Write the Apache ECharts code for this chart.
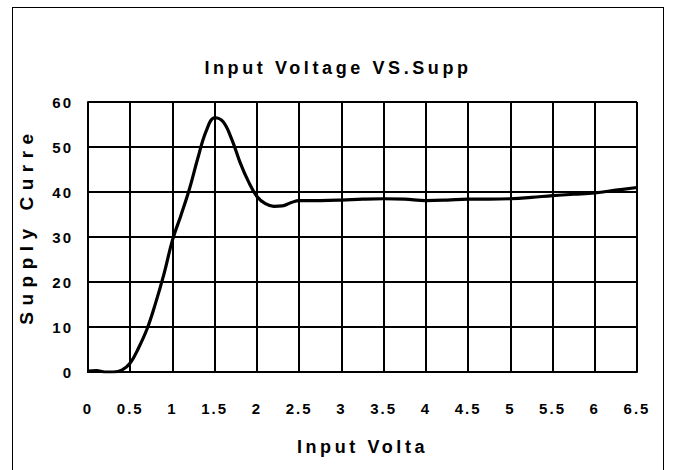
<!DOCTYPE html>
<html><head><meta charset="utf-8">
<script src="https://cdn.jsdelivr.net/npm/echarts@6/dist/echarts.min.js"></script>
<style>
html,body{margin:0;padding:0;background:#fff;}
#wrap{position:relative;width:676px;height:470px;overflow:hidden;}
#chart{width:676px;height:470px;}
#frame{position:absolute;left:12px;top:7px;width:650px;height:490px;border:1.5px solid #000;pointer-events:none;}
#chart text[style*="15px"]{letter-spacing:2px;}
#chart text[style*="18px"]{letter-spacing:3.6px;}
#chart text[style*="19px"]{letter-spacing:6.5px;}
</style>
</head><body>
<div id="wrap"><div id="chart"></div><div id="frame"></div></div>
<script>
const titleText = 'Input Voltage VS.Supp';
const xName = 'Input Volta';
const yName = 'Supply Curre';
const voltage = [0, 0.1, 0.2, 0.3, 0.4, 0.5, 0.6, 0.7, 0.8, 0.9, 1.0, 1.1, 1.2, 1.3, 1.4, 1.5, 1.6, 1.7, 1.8, 1.9, 2.0, 2.1, 2.2, 2.3, 2.4, 2.5, 2.75, 3.0, 3.25, 3.5, 3.75, 4.0, 4.25, 4.5, 4.75, 5.0, 5.25, 5.5, 5.75, 6.0, 6.25, 6.5];
const current = [0.2, 0.3, 0.0, 0.0, 0.4, 2.0, 5.4, 9.6, 15.3, 21.8, 29.3, 34.8, 40.6, 47.5, 53.6, 56.5, 55.6, 51.8, 46.6, 42.3, 39.0, 37.4, 36.8, 36.9, 37.6, 38.1, 38.1, 38.2, 38.4, 38.5, 38.4, 38.1, 38.2, 38.4, 38.4, 38.5, 38.8, 39.2, 39.5, 39.8, 40.4, 41.0];
const xTicks = [0, 6.5, 0.5];
const yTicks = [0, 60, 10];

const chart = echarts.init(document.getElementById('chart'), null, {renderer: 'svg'});
const fam = '"Liberation Sans", Arial, sans-serif';
chart.setOption({
  animation: false,
  backgroundColor: '#fff',
  title: {
    text: titleText, left: 'center', top: 54,
    textStyle: {fontFamily: fam, fontSize: 18, fontWeight: 'bold', color: '#000'}
  },
  grid: {left: 88, right: 39, top: 102, bottom: 98},
  xAxis: {
    type: 'value', min: xTicks[0], max: xTicks[1], interval: xTicks[2],
    name: xName, nameLocation: 'middle', nameGap: 66,
    nameTextStyle: {fontFamily: fam, fontSize: 18, fontWeight: 'bold', color: '#000'},
    axisLine: {show: true, lineStyle: {color: '#000', width: 2}},
    axisTick: {show: false},
    axisLabel: {margin: 29, fontFamily: fam, fontSize: 15, fontWeight: 'bold', color: '#000', showMinLabel: true, showMaxLabel: true},
    splitLine: {show: true, lineStyle: {color: '#000', width: 2}}
  },
  yAxis: {
    type: 'value', min: yTicks[0], max: yTicks[1], interval: yTicks[2],
    name: yName, nameLocation: 'middle', nameGap: 52,
    nameTextStyle: {fontFamily: fam, fontSize: 19, fontWeight: 'bold', color: '#000', padding: [0, 0, 0, 22]},
    axisLine: {show: true, lineStyle: {color: '#000', width: 2}},
    axisTick: {show: false},
    axisLabel: {margin: 15, fontFamily: fam, fontSize: 15, fontWeight: 'bold', color: '#000'},
    splitLine: {show: true, lineStyle: {color: '#000', width: 2}}
  },
  series: [{
    type: 'line', smooth: 0.4, showSymbol: false,
    lineStyle: {color: '#000', width: 3.2},
    data: voltage.map((v, i) => [v, current[i]])
  }]
});
</script>
</body></html>
